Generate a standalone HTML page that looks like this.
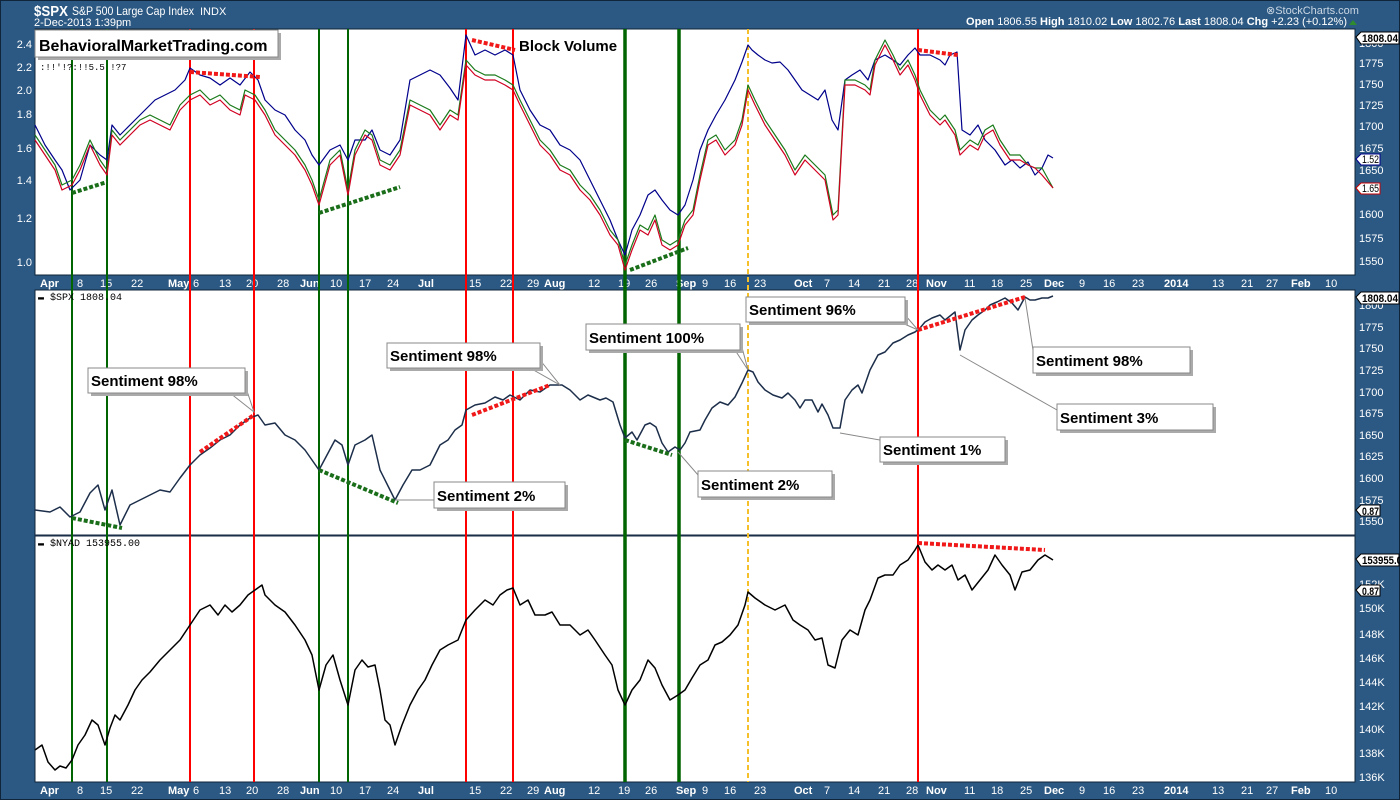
<!DOCTYPE html>
<html><head><meta charset="utf-8"><style>
html,body{margin:0;padding:0;background:#2c5983;}
svg{display:block;font-family:"Liberation Sans",sans-serif;}
</style></head><body>
<svg width="1400" height="800" viewBox="0 0 1400 800" xmlns="http://www.w3.org/2000/svg">
<rect x="0" y="0" width="1400" height="800" fill="#2c5983"/>
<rect x="0.5" y="0.5" width="1399" height="799" fill="none" stroke="#10243a"/>
<!-- header -->
<text x="34" y="16" fill="#fff" font-size="15" font-weight="bold" textLength="34" lengthAdjust="spacingAndGlyphs">$SPX</text>
<text x="72" y="15" fill="#fff" font-size="12" textLength="122" lengthAdjust="spacingAndGlyphs">S&amp;P 500 Large Cap Index</text>
<text x="200" y="15" fill="#fff" font-size="11">INDX</text>
<text x="34" y="26" fill="#fff" font-size="11">2-Dec-2013 1:39pm</text>
<text x="1266" y="14" fill="#c9d6e3" font-size="11">⊗StockCharts.com</text>
<text x="1347" y="25" fill="#fff" font-size="11" text-anchor="end"><tspan font-weight="bold">Open</tspan> 1806.55 <tspan font-weight="bold">High</tspan> 1810.02 <tspan font-weight="bold">Low</tspan> 1802.76 <tspan font-weight="bold">Last</tspan> 1808.04 <tspan font-weight="bold">Chg</tspan> +2.23 (+0.12%)</text>
<path d="M1349 25 L1353 20 L1357 25 Z" fill="#2e8b2e"/>
<!-- panels -->
<rect x="35" y="29" width="1320" height="246" fill="#fff" stroke="#10243a"/>
<rect x="35" y="290" width="1320" height="245" fill="#fff" stroke="#10243a"/>
<rect x="35" y="536" width="1320" height="246" fill="#fff" stroke="#10243a"/>
<line x1="35" y1="535.5" x2="1355" y2="535.5" stroke="#1a2e4a" stroke-width="1.5"/>
<!-- left axis top -->
<g fill="#fff" font-size="11" text-anchor="end">
<text x="32" y="48">2.4</text><text x="32" y="71">2.2</text><text x="32" y="94">2.0</text><text x="32" y="118">1.8</text><text x="32" y="152">1.6</text><text x="32" y="184">1.4</text><text x="32" y="222">1.2</text><text x="32" y="266">1.0</text>
</g>
<!-- right axes -->
<g fill="#fff" font-size="11">
<text x="1359" y="47">1800</text><text x="1359" y="67">1775</text><text x="1359" y="88">1750</text><text x="1359" y="109">1725</text><text x="1359" y="130">1700</text><text x="1359" y="152">1675</text><text x="1359" y="174">1650</text><text x="1359" y="218">1600</text><text x="1359" y="242">1575</text><text x="1359" y="265">1550</text>
<text x="1359" y="309">1800</text><text x="1359" y="331">1775</text><text x="1359" y="352">1750</text><text x="1359" y="374">1725</text><text x="1359" y="396">1700</text><text x="1359" y="417">1675</text><text x="1359" y="439">1650</text><text x="1359" y="460">1625</text><text x="1359" y="482">1600</text><text x="1359" y="504">1575</text><text x="1359" y="525">1550</text>
<text x="1359" y="588">152K</text><text x="1359" y="612">150K</text><text x="1359" y="638">148K</text><text x="1359" y="662">146K</text><text x="1359" y="686">144K</text><text x="1359" y="710">142K</text><text x="1359" y="733">140K</text><text x="1359" y="757">138K</text><text x="1359" y="781">136K</text>
</g>
<!-- value tags -->
<g font-size="11" font-weight="bold">
<path d="M1356 37 L1361 32 H1399 V44 H1361 Z" fill="#fff" stroke="#000"/><text x="1362" y="42" textLength="36" lengthAdjust="spacingAndGlyphs">1808.04</text>
<path d="M1356 159 L1361 154 H1380 V165 H1361 Z" fill="#fff" stroke="#00008b"/><text x="1362" y="163" font-weight="normal" textLength="17" lengthAdjust="spacingAndGlyphs">1.52</text>
<path d="M1356 188 L1361 183 H1380 V194 H1361 Z" fill="#fff" stroke="#c00"/><text x="1362" y="192" font-weight="normal" textLength="17" lengthAdjust="spacingAndGlyphs">1.65</text>
<path d="M1356 297 L1361 292 H1399 V304 H1361 Z" fill="#fff" stroke="#000"/><text x="1362" y="302" textLength="36" lengthAdjust="spacingAndGlyphs">1808.04</text>
<path d="M1356 510 L1361 505 H1380 V516 H1361 Z" fill="#fff" stroke="#000"/><text x="1362" y="515" textLength="17" lengthAdjust="spacingAndGlyphs">0.87</text>
<path d="M1356 559 L1361 554 H1399 V566 H1361 Z" fill="#fff" stroke="#000"/><text x="1362" y="564" textLength="40" lengthAdjust="spacingAndGlyphs">153955.0</text>
<path d="M1356 590 L1361 585 H1380 V596 H1361 Z" fill="#fff" stroke="#000"/><text x="1362" y="595" textLength="17" lengthAdjust="spacingAndGlyphs">0.87</text>
</g>
<!-- date axes -->
<g fill="#fff" font-size="11">
<g id="dates">
<text x="40" y="287" font-weight="bold">Apr</text><text x="77" y="287">8</text><text x="100" y="287">15</text><text x="131" y="287">22</text><text x="168" y="287" font-weight="bold">May</text><text x="193" y="287">6</text><text x="219" y="287">13</text><text x="246" y="287">20</text><text x="277" y="287">28</text><text x="300" y="287" font-weight="bold">Jun</text><text x="330" y="287">10</text><text x="359" y="287">17</text><text x="387" y="287">24</text><text x="418" y="287" font-weight="bold">Jul</text><text x="469" y="287">15</text><text x="500" y="287">22</text><text x="527" y="287">29</text><text x="544" y="287" font-weight="bold">Aug</text><text x="588" y="287">12</text><text x="618" y="287">19</text><text x="645" y="287">26</text><text x="676" y="287" font-weight="bold">Sep</text><text x="702" y="287">9</text><text x="724" y="287">16</text><text x="754" y="287">23</text><text x="794" y="287" font-weight="bold">Oct</text><text x="824" y="287">7</text><text x="848" y="287">14</text><text x="878" y="287">21</text><text x="906" y="287">28</text><text x="926" y="287" font-weight="bold">Nov</text><text x="964" y="287">11</text><text x="991" y="287">18</text><text x="1020" y="287">25</text><text x="1044" y="287" font-weight="bold">Dec</text><text x="1079" y="287">9</text><text x="1103" y="287">16</text><text x="1132" y="287">23</text><text x="1164" y="287" font-weight="bold">2014</text><text x="1212" y="287">13</text><text x="1241" y="287">21</text><text x="1266" y="287">27</text><text x="1291" y="287" font-weight="bold">Feb</text><text x="1325" y="287">10</text>
</g>
<use href="#dates" transform="translate(0,507)"/>
</g>
<!-- vertical lines -->
<g fill="none">
<g stroke="#006400" stroke-width="2">
<line x1="72" y1="29" x2="72" y2="782"/><line x1="107" y1="29" x2="107" y2="782"/><line x1="319" y1="29" x2="319" y2="782"/><line x1="348" y1="29" x2="348" y2="782"/>
</g>
<g stroke="#006400" stroke-width="3.5"><line x1="625" y1="29" x2="625" y2="782"/><line x1="679" y1="29" x2="679" y2="782"/></g>
<g stroke="#f00" stroke-width="2">
<line x1="190" y1="29" x2="190" y2="782"/><line x1="254" y1="29" x2="254" y2="782"/><line x1="466" y1="29" x2="466" y2="782"/><line x1="513" y1="29" x2="513" y2="782"/><line x1="918" y1="29" x2="918" y2="782"/>
</g>
<line x1="748" y1="29" x2="748" y2="782" stroke="#f5c02a" stroke-width="2" stroke-dasharray="5,3"/>
</g>
<!-- top panel series -->
<g fill="none" stroke-width="1.2" stroke-linejoin="round">
<polyline stroke="#00008b" points="35,125 45,145 55,160 62,170 70,190 80,180 90,145 100,155 107,160 112,125 120,135 125,130 135,120 145,110 155,100 165,95 175,90 185,80 190,68 200,75 210,78 220,85 230,78 240,85 250,72 258,80 265,100 275,110 285,115 295,130 305,140 312,155 319,165 330,150 340,145 348,160 355,140 365,140 372,130 380,150 390,155 400,140 410,80 420,75 430,70 440,75 450,88 458,100 466,35 475,55 485,50 495,55 505,50 513,55 520,90 530,110 540,125 550,130 560,145 570,150 580,160 590,180 600,200 610,220 618,240 625,255 632,230 640,215 648,195 655,190 662,200 670,210 678,215 685,205 693,180 700,150 708,130 716,115 725,100 735,80 742,62 748,45 752,50 758,55 765,60 772,63 780,62 788,70 795,80 802,90 810,95 818,100 825,90 832,120 838,130 845,80 852,75 860,70 868,80 875,60 885,55 893,60 900,65 908,55 915,48 920,55 930,55 940,60 945,65 950,55 957,52 962,130 970,135 978,125 985,140 995,150 1005,165 1012,160 1020,168 1028,162 1035,175 1042,168 1048,155 1053,158"/>
<polyline stroke="#1a7a1a" points="35,135 45,150 55,165 62,185 72,180 80,165 90,140 100,160 107,170 112,130 120,140 130,130 140,120 150,115 160,120 170,125 180,105 190,95 200,90 210,100 220,95 230,105 240,110 245,90 255,95 265,110 275,130 285,140 295,150 305,165 312,180 319,200 330,160 340,150 348,190 355,150 365,130 372,135 380,160 390,165 400,150 410,100 420,105 430,110 440,125 450,110 458,115 466,60 475,70 485,75 495,75 505,80 513,85 520,100 530,120 540,140 550,150 560,165 570,170 580,185 590,195 600,210 610,230 618,240 625,265 632,245 640,225 648,230 655,215 662,240 670,245 678,240 685,220 693,210 700,175 708,140 716,135 725,150 735,140 742,120 748,85 755,100 765,120 775,135 785,150 795,170 805,155 815,165 825,175 833,215 838,210 845,80 855,80 865,85 870,90 875,60 885,40 893,55 900,70 908,60 915,75 920,90 930,110 940,120 945,115 955,130 960,150 970,140 978,145 985,130 993,125 1000,140 1010,155 1020,155 1028,165 1035,168 1042,168 1053,188"/>
<polyline stroke="#d00020" transform="translate(0,5)" points="35,135 45,150 55,165 62,185 72,180 80,165 90,140 100,160 107,170 112,130 120,140 130,130 140,120 150,115 160,120 170,125 180,105 190,95 200,90 210,100 220,95 230,105 240,110 245,90 255,95 265,110 275,130 285,140 295,150 305,165 312,180 319,200 330,160 340,150 348,190 355,150 365,130 372,135 380,160 390,165 400,150 410,100 420,105 430,110 440,125 450,110 458,115 466,60 475,70 485,75 495,75 505,80 513,85 520,100 530,120 540,140 550,150 560,165 570,170 580,185 590,195 600,210 610,230 618,240 625,265 632,245 640,225 648,230 655,215 662,240 670,245 678,240 685,220 693,210 700,175 708,140 716,135 725,150 735,140 742,120 748,85 755,100 765,120 775,135 785,150 795,170 805,155 815,165 825,175 833,215 838,210 845,80 855,80 865,85 870,90 875,60 885,40 893,55 900,70 908,60 915,75 920,90 930,110 940,120 945,115 955,130 960,150 970,140 978,145 985,130 993,125 1000,140 1010,155 1020,155 1028,160 1035,163 1042,170 1053,183"/>
</g>
<!-- middle SPX -->
<polyline fill="none" stroke="#1c2e4a" stroke-width="1.5" stroke-linejoin="round" points="35,510 50,512 60,507 70,517 80,512 90,493 98,485 105,510 112,490 120,525 130,505 140,500 150,495 160,490 170,492 180,478 190,465 200,455 210,448 220,440 230,435 240,425 250,418 258,415 265,425 275,423 285,435 295,440 305,450 312,460 319,470 327,455 335,440 342,445 348,465 355,445 365,440 372,435 380,470 390,490 395,500 403,485 412,470 420,470 430,465 440,445 448,440 455,430 462,425 466,410 475,405 485,403 495,397 503,400 510,395 520,400 530,390 540,392 550,385 562,385 570,390 580,400 588,395 600,400 606,398 613,402 620,425 625,438 632,432 637,440 645,425 650,423 656,427 662,443 668,452 675,447 680,450 685,443 690,432 700,430 705,420 712,408 720,402 728,405 735,397 742,383 748,370 753,372 758,382 765,390 773,395 782,398 788,393 795,400 800,408 805,400 812,400 818,412 822,404 828,415 833,428 840,428 845,400 852,390 858,385 862,393 870,370 878,355 885,352 893,343 900,340 908,335 915,332 920,328 925,322 932,318 940,315 945,320 955,312 960,350 965,330 972,320 978,315 985,310 990,305 997,302 1005,298 1012,303 1018,310 1025,297 1030,300 1035,300 1042,298 1048,298 1053,296"/>
<text x="38" y="300" font-size="10" font-family="Liberation Mono,monospace" fill="#000">▬ $SPX 1808.04</text>
<text x="38" y="546" font-size="10" font-family="Liberation Mono,monospace" fill="#000">▬ $NYAD 153955.00</text>
<!-- bottom NYAD -->
<polyline fill="none" stroke="#000" stroke-width="1.5" stroke-linejoin="round" points="35,750 42,745 48,762 55,770 60,766 66,768 72,760 78,745 85,735 92,720 98,725 105,745 110,728 115,715 120,720 128,705 135,690 142,680 150,672 160,660 170,650 180,640 190,625 200,610 210,605 218,615 225,605 232,612 240,605 248,595 255,590 262,585 265,595 275,605 285,612 295,625 305,640 312,655 319,690 326,665 333,655 340,680 348,705 355,670 362,660 368,667 375,665 380,690 385,720 390,725 395,745 402,725 410,705 418,690 425,680 432,665 440,650 448,645 458,640 466,620 475,610 485,600 493,605 500,595 507,590 513,588 520,605 528,600 535,615 545,615 552,612 560,625 570,625 580,635 588,630 595,640 605,655 612,665 618,690 625,705 632,690 640,680 648,660 655,668 662,685 670,700 678,695 685,690 692,678 700,665 708,660 715,645 722,642 730,635 738,625 745,605 748,592 755,598 765,605 775,610 785,605 793,620 800,625 808,630 815,640 822,638 828,665 835,668 842,640 850,630 858,635 865,610 870,600 878,578 885,575 893,575 900,565 908,560 915,550 918,545 925,562 932,570 938,565 945,570 952,565 958,580 965,575 972,590 980,580 988,570 995,555 1002,565 1010,575 1015,590 1022,572 1030,570 1038,560 1045,555 1053,560"/>
<!-- dashed trend lines -->
<g fill="none" stroke-width="4" stroke-dasharray="4,2">
<g stroke="#1a6e1a">
<line x1="72" y1="193" x2="107" y2="182"/><line x1="319" y1="213" x2="400" y2="187"/><line x1="630" y1="270" x2="688" y2="248"/>
<line x1="72" y1="518" x2="122" y2="528"/><line x1="319" y1="470" x2="398" y2="503"/><line x1="625" y1="440" x2="672" y2="455"/>
</g>
<g stroke="#f01818">
<line x1="190" y1="72" x2="260" y2="77"/><line x1="472" y1="40" x2="515" y2="50"/><line x1="918" y1="50" x2="958" y2="55"/>
<line x1="200" y1="452" x2="254" y2="415"/><line x1="472" y1="415" x2="550" y2="385"/><line x1="918" y1="330" x2="1025" y2="297"/>
<line x1="918" y1="543" x2="1045" y2="550"/>
</g>
</g>
<!-- labels top -->
<rect x="38" y="33" width="243" height="27" fill="#aaa"/>
<rect x="35" y="30" width="243" height="27" fill="#fff" stroke="#888"/>
<text x="39" y="51" font-size="16" font-weight="bold" fill="#000">BehavioralMarketTrading.com</text>
<text x="40" y="70" font-size="9" fill="#000" font-family="Liberation Mono,monospace">:!!'!?:!!5.5 !?7</text>
<text x="519" y="51" font-size="15" font-weight="bold" fill="#000">Block Volume</text>
<!-- sentiment boxes -->
<g font-size="15" font-weight="bold" fill="#000">
<g stroke="#888" fill="none" stroke-width="1">
<polyline points="230,393 254,412 245,385"/>
<polyline points="530,368 560,385 540,360"/>
<polyline points="735,350 748,370 740,340"/>
<polyline points="905,315 918,330 900,322"/>
<polyline points="395,500 434,500 434,508"/>
<polyline points="678,452 698,475 715,471"/>
<polyline points="840,433 880,440 880,448"/>
<polyline points="960,355 1057,410 1057,420"/>
<polyline points="1025,298 1033,350 1045,347"/>
</g>
<g fill="#aaa">
<rect x="91" y="371" width="157" height="25"/><rect x="390" y="346" width="153" height="25"/><rect x="589" y="327" width="154" height="26"/><rect x="749" y="300" width="159" height="25"/><rect x="437" y="485" width="131" height="26"/><rect x="701" y="474" width="134" height="26"/><rect x="883" y="440" width="125" height="25"/><rect x="1060" y="407" width="156" height="26"/><rect x="1036" y="350" width="157" height="26"/>
</g>
<g fill="#fff" stroke="#888">
<rect x="88" y="368" width="157" height="25"/><rect x="387" y="343" width="153" height="25"/><rect x="586" y="324" width="154" height="26"/><rect x="746" y="297" width="159" height="25"/><rect x="434" y="482" width="131" height="26"/><rect x="698" y="471" width="134" height="26"/><rect x="880" y="437" width="125" height="25"/><rect x="1057" y="404" width="156" height="26"/><rect x="1033" y="347" width="157" height="26"/>
</g>
<text x="91" y="386">Sentiment 98%</text>
<text x="390" y="361">Sentiment 98%</text>
<text x="589" y="343">Sentiment 100%</text>
<text x="749" y="315">Sentiment 96%</text>
<text x="437" y="501">Sentiment 2%</text>
<text x="701" y="490">Sentiment 2%</text>
<text x="883" y="455">Sentiment 1%</text>
<text x="1060" y="423">Sentiment 3%</text>
<text x="1036" y="366">Sentiment 98%</text>
</g>
</svg>
</body></html>
